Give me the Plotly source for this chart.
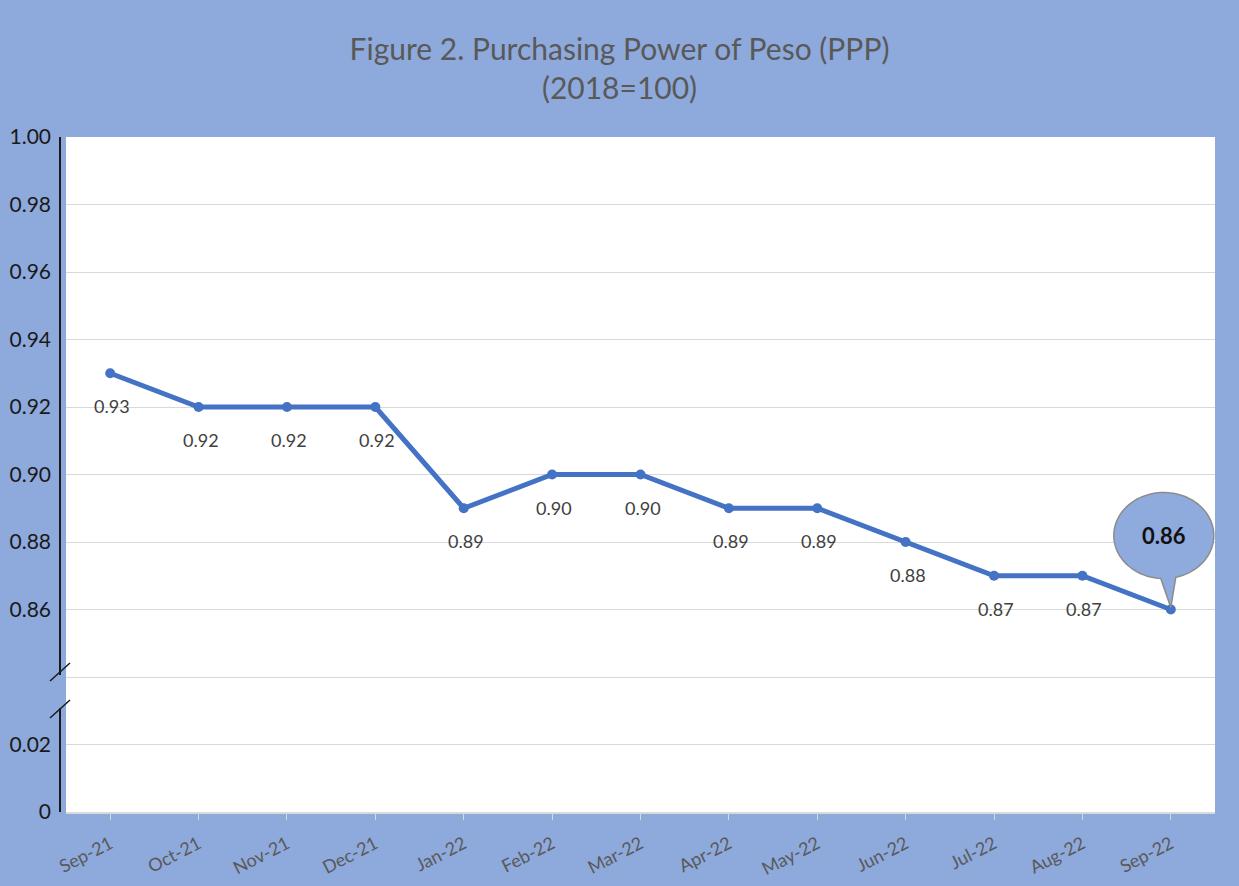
import numpy as np
import plotly.graph_objects as go

months = ["Sep-21", "Oct-21", "Nov-21", "Dec-21", "Jan-22", "Feb-22", "Mar-22",
          "Apr-22", "May-22", "Jun-22", "Jul-22", "Aug-22", "Sep-22"]
ppp = [0.93, 0.92, 0.92, 0.92, 0.89, 0.90, 0.90, 0.89, 0.89, 0.88, 0.87, 0.87, 0.86]
tick_vals = [0.80, 0.82, 0.84, 0.86, 0.88, 0.90, 0.92, 0.94, 0.96, 0.98, 1.00]
tick_text = ["0", "0.02", "", "0.86", "0.88", "0.90", "0.92", "0.94", "0.96", "0.98", "1.00"]

BG = "#8EA9DB"
LINE = "#4472C4"
FONT = "Lato, Carlito, 'Open Sans', sans-serif"

W, H = 1239, 886
ML, MR, MT, MB = 66, 24, 137, 74
PW, PH = W - ML - MR, H - MT - MB
YMIN, YMAX = 0.80, 1.00
xpx = PW / 13.0
ypx = PH / (YMAX - YMIN)

fig = go.Figure()
fig.add_trace(go.Scatter(
    x=list(range(len(months))), y=ppp, mode="lines+markers",
    line=dict(color=LINE, width=5), marker=dict(color=LINE, size=10),
    hoverinfo="skip", showlegend=False))

annotations = []
for i, (m, v) in enumerate(zip(months, ppp)):
    if i == len(months) - 1:
        continue
    annotations.append(dict(x=i, y=v, text=f"{v:.2f}", showarrow=False, yshift=-33, xshift=2,
                            font=dict(family=FONT, size=18, color="#404040")))

# callout bubble for last point
li = len(months) - 1
lv = ppp[-1]
cx = li - 7 / xpx
cy = lv + 74 / ypx
rx = 50 / xpx
ry = 43 / ypx
a1 = np.degrees(np.arccos(12 / 50)) * -1
a2 = -93.5 + 360
angs = np.radians(np.linspace(a1, a2, 120))
pts = [(cx + rx * np.cos(a), cy + ry * np.sin(a)) for a in angs]
path = "M " + " L ".join(f"{x:.5f},{y:.6f}" for x, y in pts) + f" L {li:.5f},{lv + 2/ypx:.6f} Z"
shapes = [dict(type="path", xref="x", yref="y", path=path,
               fillcolor="#8FAADC", line=dict(color="#8C8C8C", width=1.5), layer="above")]
annotations.append(dict(x=cx, y=cy, text="<b>0.86</b>", showarrow=False,
                        font=dict(family=FONT, size=22, color="#111111")))

# y axis line with break
ax_x = -6 / PW
def py(p):
    return (MT + PH - p) / PH
shapes += [
    dict(type="line", xref="paper", yref="paper", x0=ax_x, x1=ax_x, y0=py(675), y1=1,
         line=dict(color="#1a1a1a", width=2)),
    dict(type="line", xref="paper", yref="paper", x0=ax_x, x1=ax_x, y0=0, y1=py(708),
         line=dict(color="#1a1a1a", width=2)),
    dict(type="line", xref="paper", yref="paper", x0=(50 - ML) / PW, x1=(70 - ML) / PW,
         y0=py(681), y1=py(663), line=dict(color="#1a1a1a", width=1.5)),
    dict(type="line", xref="paper", yref="paper", x0=(50 - ML) / PW, x1=(70 - ML) / PW,
         y0=py(718), y1=py(700), line=dict(color="#1a1a1a", width=1.5)),
]

fig.update_layout(
    width=W, height=H,
    paper_bgcolor=BG, plot_bgcolor="white",
    margin=dict(l=ML, r=MR, t=MT, b=MB),
    title=dict(text="Figure 2. Purchasing Power of Peso (PPP)<br>(2018=100)",
               x=0.5, xanchor="center", y=0.932, yanchor="middle",
               font=dict(family=FONT, size=30, color="#595959")),
    shapes=shapes, annotations=annotations,
    xaxis=dict(tickmode="array", tickvals=list(range(len(months))), ticktext=months,
               range=[-0.5, len(months) - 0.5], showgrid=False, automargin=False,
               showline=True, linecolor="#D9D9D9", linewidth=1.5,
               ticks="outside", ticklen=6, tickcolor="#D9D9D9", tickson="boundaries",
               ticklabelstandoff=7,
               tickangle=-27, tickfont=dict(family=FONT, size=18, color="#595959"),
               zeroline=False, fixedrange=True),
    yaxis=dict(range=[YMIN, YMAX], tickmode="array", tickvals=tick_vals, ticktext=tick_text,
               showgrid=True, gridcolor="#D9D9D9", gridwidth=1, zeroline=False, automargin=False,
               showline=False, ticks="", ticklabelstandoff=14,
               tickfont=dict(family=FONT, size=21, color="#1a1a1a"), fixedrange=True),
)

fig.write_html("out.html", config={"displayModeBar": False},
               post_script="document.body.style.margin='0';document.body.style.background='%s';" % BG)
